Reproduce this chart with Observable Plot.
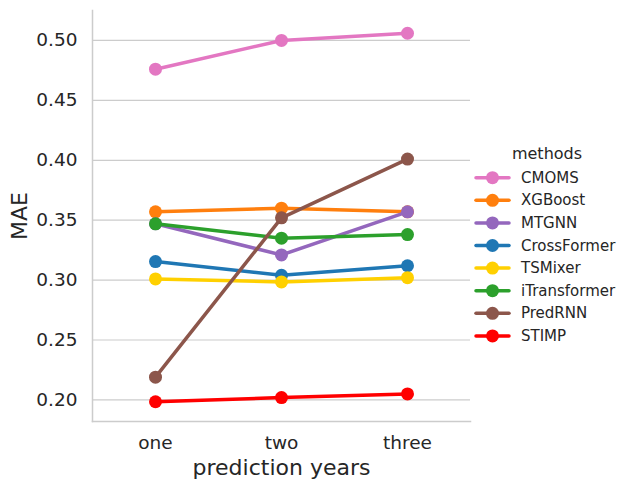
<!DOCTYPE html>
<html>
<head>
<meta charset="utf-8">
<script src="https://cdn.jsdelivr.net/npm/d3@7"></script>
<script src="https://cdn.jsdelivr.net/npm/@observablehq/plot@0.6"></script>
<style>
  html, body { margin: 0; padding: 0; background: #fff; }
  #chart { width: 630px; height: 490px; }
</style>
</head>
<body>
<div id="chart"></div>
<script>
// Prediction horizons on the x axis
const years = ["one", "two", "three"];

// Methods in legend / drawing order, with their colours
const methods = ["CMOMS", "XGBoost", "MTGNN", "CrossFormer", "TSMixer", "iTransformer", "PredRNN", "STIMP"];
const colors = ["#e377c2", "#ff7f0e", "#9467bd", "#1f77b4", "#ffd000", "#2ca02c", "#8c564b", "#ff0000"];

// MAE per method for one, two and three years ahead
const CMOMS = [0.476, 0.500, 0.506];
const XGBoost = [0.357, 0.360, 0.357];
const MTGNN = [0.347, 0.321, 0.357];
const CrossFormer = [0.3155, 0.304, 0.312];
const TSMixer = [0.301, 0.2985, 0.302];
const iTransformer = [0.347, 0.335, 0.338];
const PredRNN = [0.219, 0.352, 0.401];
const STIMP = [0.1985, 0.202, 0.205];

const yTicks = [0.20, 0.25, 0.30, 0.35, 0.40, 0.45, 0.50];

const series = {CMOMS, XGBoost, MTGNN, CrossFormer, TSMixer, iTransformer, PredRNN, STIMP};
const rows = methods.flatMap(m => years.map((yr, i) => ({method: m, year: yr, mae: series[m][i]})));

const ink = "#262626";
const grey = "#cccccc";
const font = "DejaVu Sans";

// One line + its markers per method, so later methods sit on top
const seriesMarks = methods.flatMap(m => {
  const d = rows.filter(r => r.method === m);
  return [
    Plot.line(d, {x: "year", y: "mae", stroke: "method", strokeWidth: 3.5, strokeLinecap: "round"}),
    Plot.dot(d, {x: "year", y: "mae", fill: "method", r: 6.5, stroke: "none"})
  ];
});

const plot = Plot.plot({
  width: 630,
  height: 490,
  marginLeft: 92,
  marginRight: 160,
  marginTop: 10,
  marginBottom: 69,
  style: {fontFamily: font, color: ink, background: "#fff", overflow: "visible"},
  x: {type: "point", domain: years, padding: 0.5},
  y: {domain: [0.182, 0.525]},
  color: {domain: methods, range: colors},
  marks: [
    Plot.gridY(yTicks, {stroke: grey, strokeOpacity: 1, strokeWidth: 1.2}),
    Plot.frame({anchor: "left", stroke: grey, strokeWidth: 1.5}),
    Plot.frame({anchor: "bottom", stroke: grey, strokeWidth: 1.5}),
    Plot.axisY(yTicks, {tickSize: 0, tickPadding: 15, tickFormat: d3.format(".2f"), fontSize: 18.5, fill: ink,
      label: "MAE", labelAnchor: "center", labelArrow: "none", labelOffset: 81}),
    Plot.axisX({tickSize: 0, tickPadding: 14, fontSize: 18.5, fill: ink,
      label: "prediction years", labelAnchor: "center", labelArrow: "none", labelOffset: 53}),
    ...seriesMarks
  ]
});

// Style axis titles
d3.select(plot).selectAll("[aria-label='y-axis label'] text, [aria-label='x-axis label'] text")
  .attr("font-size", 22);

// Legend on the right, built from the plot's own colour scale
const color = plot.scale("color");
const svg = d3.select(plot);
const lg = svg.append("g").attr("font-family", font).attr("fill", ink);
lg.append("text").attr("x", 547).attr("y", 153).attr("text-anchor", "middle")
  .attr("dominant-baseline", "central").attr("font-size", 16).text("methods");
methods.forEach((m, i) => {
  const y = 177.7 + i * 22.6;
  const c = color.apply(m);
  lg.append("line").attr("x1", 476).attr("x2", 509).attr("y1", y).attr("y2", y)
    .attr("stroke", c).attr("stroke-width", 3.5).attr("stroke-linecap", "round");
  lg.append("circle").attr("cx", 492.5).attr("cy", y).attr("r", 6.5).attr("fill", c);
  lg.append("text").attr("x", 521).attr("y", y).attr("text-anchor", "start")
    .attr("dominant-baseline", "central").attr("font-size", 15).text(m);
});

document.getElementById("chart").append(plot);
</script>
</body>
</html>
